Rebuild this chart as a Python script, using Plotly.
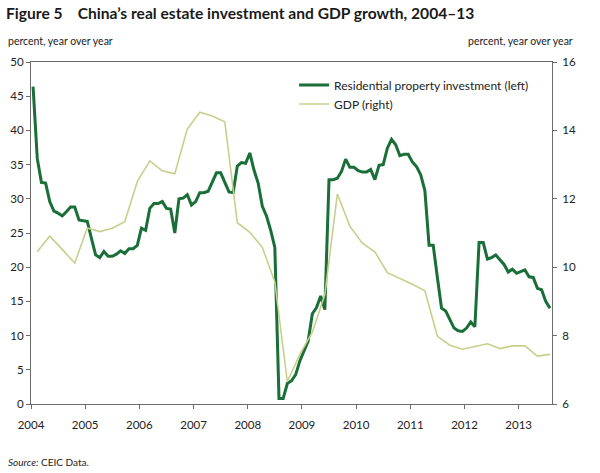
import plotly.graph_objects as go

# Category axis: 13 categories per labelled year interval
years = ["2004", "2005", "2006", "2007", "2008", "2009", "2010", "2011", "2012", "2013"]
cats_per_label = 13

# Residential property investment, percent y/y (left axis), one value per category
investment = [
    46.4, 35.9, 32.4, 32.3, 29.6, 28.2, 27.9, 27.5, 28.1, 28.8,
    28.8, 26.9, 26.8, 26.7, 24.2, 21.8, 21.4, 22.3, 21.6, 21.6,
    21.9, 22.4, 22.0, 22.7, 22.7, 23.2, 25.7, 25.4, 28.6, 29.3,
    29.3, 29.6, 28.6, 28.5, 25.0, 30.0, 30.1, 30.6, 29.1, 29.6,
    30.9, 30.9, 31.1, 32.5, 33.8, 33.8, 32.4, 31.0, 30.9, 34.8,
    35.3, 35.2, 36.7, 34.2, 32.3, 28.9, 27.5, 25.4, 22.9, 0.8,
    0.8, 3.0, 3.4, 4.3, 6.3, 7.9, 9.2, 13.2, 14.1, 15.8,
    13.8, 32.8, 32.8, 33.0, 34.0, 35.8, 34.6, 34.6, 34.1, 33.9,
    33.9, 34.3, 32.8, 34.9, 35.0, 37.4, 38.7, 37.9, 36.3, 36.5,
    36.5, 35.4, 34.7, 33.5, 31.2, 23.2, 23.2, 18.5, 14.0, 13.6,
    12.3, 11.1, 10.7, 10.6, 11.1, 12.0, 11.3, 23.6, 23.6, 21.2,
    21.4, 21.8, 21.1, 20.4, 19.3, 19.7, 19.1, 19.3, 19.6, 18.6,
    18.5, 16.9, 16.7, 15.0, 14.0,
]

# GDP growth, percent y/y (right axis), quarterly: every 3rd category starting at category 1
gdp = [
    10.45, 10.91, 10.52, 10.12, 11.15, 11.04, 11.14, 11.33,
    12.50, 13.11, 12.82, 12.73, 14.04, 14.53, 14.42, 14.25,
    11.30, 11.02, 10.58, 9.57, 6.65, 7.45, 8.10, 9.20,
    12.14, 11.20, 10.70, 10.45, 9.84, 9.68, 9.50, 9.31,
    7.98, 7.72, 7.60, 7.68, 7.76, 7.62, 7.70, 7.70,
    7.40, 7.45,
]
gdp_first_cat = 1
gdp_step = 3

n_cats = len(investment)
x_inv = [i + 0.5 for i in range(n_cats)]
x_gdp = [gdp_first_cat + gdp_step * k + 0.5 for k in range(len(gdp))]
tickvals = [i * cats_per_label for i in range(len(years))]

FONT = "Lato"
GREEN = "#1a6e37"
OLIVE = "#c8cf8c"
AXIS = "#6b6b6b"
TXT = "#222222"

fig = go.Figure()
fig.add_trace(go.Scatter(
    x=x_inv, y=investment, mode="lines", name="Residential property investment (left)",
    line=dict(color=GREEN, width=3), yaxis="y"))
fig.add_trace(go.Scatter(
    x=x_gdp, y=gdp, mode="lines", name="GDP (right)",
    line=dict(color=OLIVE, width=1.6), yaxis="y2"))

fig.update_layout(
    width=600, height=473,
    margin=dict(l=31, r=48, t=62, b=69, autoexpand=False),
    paper_bgcolor="white", plot_bgcolor="white",
    font=dict(family=FONT, size=11, color=TXT),
    showlegend=True,
    legend=dict(x=0.505, y=0.975, xanchor="left", yanchor="top",
                bgcolor="rgba(0,0,0,0)", font=dict(size=12, family=FONT, color=TXT),
                itemwidth=30, tracegroupgap=0),
    title=dict(text="<b>Figure 5    China’s real estate investment and GDP growth, 2004–13</b>",
               x=6 / 600, xanchor="left", xref="container",
               y=1 - 14 / 473, yanchor="middle", yref="container",
               font=dict(family=FONT, size=15.6, color="#1a1a1a")),
    xaxis=dict(range=[0, n_cats], tickvals=tickvals, ticktext=years, automargin=False,
               showgrid=False, zeroline=False, showline=True, linecolor=AXIS, linewidth=1,
               mirror=True, ticks="outside", ticklen=4, tickcolor=AXIS,
               ticklabelstandoff=6,
               tickfont=dict(size=11.5, family=FONT, color=TXT)),
    yaxis=dict(range=[0, 50], dtick=5, showgrid=False, zeroline=False, automargin=False,
               showline=True, linecolor=AXIS, linewidth=1, ticks="outside", ticklen=4,
               tickcolor=AXIS, tickfont=dict(size=11.5, family=FONT, color=TXT)),
    yaxis2=dict(range=[6, 16], dtick=2, overlaying="y", side="right", showgrid=False,
                zeroline=False, showline=True, linecolor=AXIS, linewidth=1, automargin=False,
                ticks="outside", ticklen=4, tickcolor=AXIS, ticklabelstandoff=3,
                tickfont=dict(size=11.5, family=FONT, color=TXT)),
    annotations=[
        dict(text="percent, year over year", xref="paper", yref="paper",
             x=-25 / 521, y=1 + 21 / 342, xanchor="left", yanchor="middle",
             showarrow=False, font=dict(size=10.5, family=FONT, color=TXT)),
        dict(text="percent, year over year", xref="paper", yref="paper",
             x=1 + 23 / 521, y=1 + 21 / 342, xanchor="right", yanchor="middle",
             showarrow=False, font=dict(size=10.5, family=FONT, color=TXT)),
        dict(text="<i>Source:</i> CEIC Data.", xref="paper", yref="paper",
             x=-25 / 521, y=-58 / 342, xanchor="left", yanchor="middle",
             showarrow=False, font=dict(size=10, family=FONT, color=TXT)),
    ],
)

fig.write_html("out.html", config={"displayModeBar": False},
               post_script="document.body.style.margin='0';")
